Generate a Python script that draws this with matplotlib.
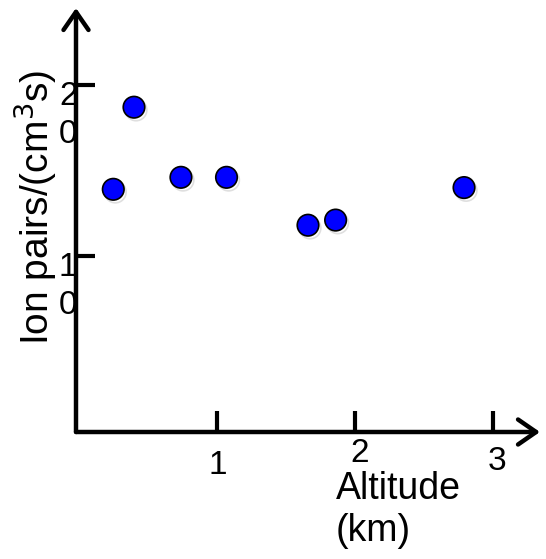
import matplotlib
matplotlib.use("Agg")
import matplotlib.pyplot as plt
import matplotlib.patheffects as pe
from matplotlib.transforms import ScaledTranslation

plt.rcParams['font.family'] = ['Liberation Sans', 'DejaVu Sans']

altitude_km = [0.25, 0.40, 0.74, 1.07, 1.66, 1.86, 2.79]
ion_pairs = [13.9, 18.7, 14.6, 14.6, 11.8, 12.1, 14.0]

x_ticks = [1, 2, 3]
x_tick_labels = ['1', '2', '3']
y_ticks = [10, 20]
y_tick_labels = ['1\n0', '2\n0']

fig = plt.figure(figsize=(5.46, 5.59), dpi=100)
ax = fig.add_axes([76/546, 1 - 432/559, 464/546, 424/559])

ax.set_xlim(-0.02, 3.34)
ax.set_ylim(-0.29, 24.5)

for s in ax.spines.values():
    s.set_visible(False)

shadow = [pe.SimpleLineShadow(offset=(1.5, -2), alpha=0.25, shadow_color='gray'), pe.Normal()]

ax.plot(altitude_km, ion_pairs, linestyle='none', marker='o', markersize=15.5,
        markerfacecolor='#0000ff', markeredgecolor='black', markeredgewidth=1.2,
        path_effects=shadow, clip_on=False, zorder=3)

arrow_kw = dict(arrowstyle='->,head_length=0.65,head_width=0.45', lw=3.2, color='black',
                mutation_scale=20, shrinkA=0, shrinkB=0)
ax.annotate('', xy=(1.0, 0), xytext=(0, 0), xycoords='axes fraction',
            textcoords='axes fraction', arrowprops=arrow_kw, annotation_clip=False)
ax.annotate('', xy=(0, 1.0), xytext=(0, 0), xycoords='axes fraction',
            textcoords='axes fraction', arrowprops=arrow_kw, annotation_clip=False)

ax.set_xticks(x_ticks)
ax.set_xticklabels(x_tick_labels, fontsize=24)
ax.set_yticks(y_ticks)
ax.set_yticklabels(y_tick_labels, fontsize=24, va='top', linespacing=1.3)

ax.tick_params(axis='x', direction='in', length=15, width=3, pad=13, color='black')
ax.tick_params(axis='y', direction='in', length=14, width=3, pad=-1, color='black')

shift = ScaledTranslation(0, 3/72, fig.dpi_scale_trans)
for lab in ax.get_yticklabels():
    lab.set_transform(lab.get_transform() + shift)
x_offsets_pt = [(1, 0), (3.5, 8.6), (3, 2.9)]
for lab, (dx, dy) in zip(ax.get_xticklabels(), x_offsets_pt):
    lab.set_transform(lab.get_transform() + ScaledTranslation(dx/72, dy/72, fig.dpi_scale_trans))

fig.text(35/546, 1 - 207/559, 'Ion pairs/(cm$^3$s)', rotation=90, ha='center', va='center',
         fontsize=28)
fig.text(336/546, 1 - 471/559, 'Altitude\n(km)', ha='left', va='top', fontsize=27,
         linespacing=1.2)

fig.savefig('out.png', dpi=100)
